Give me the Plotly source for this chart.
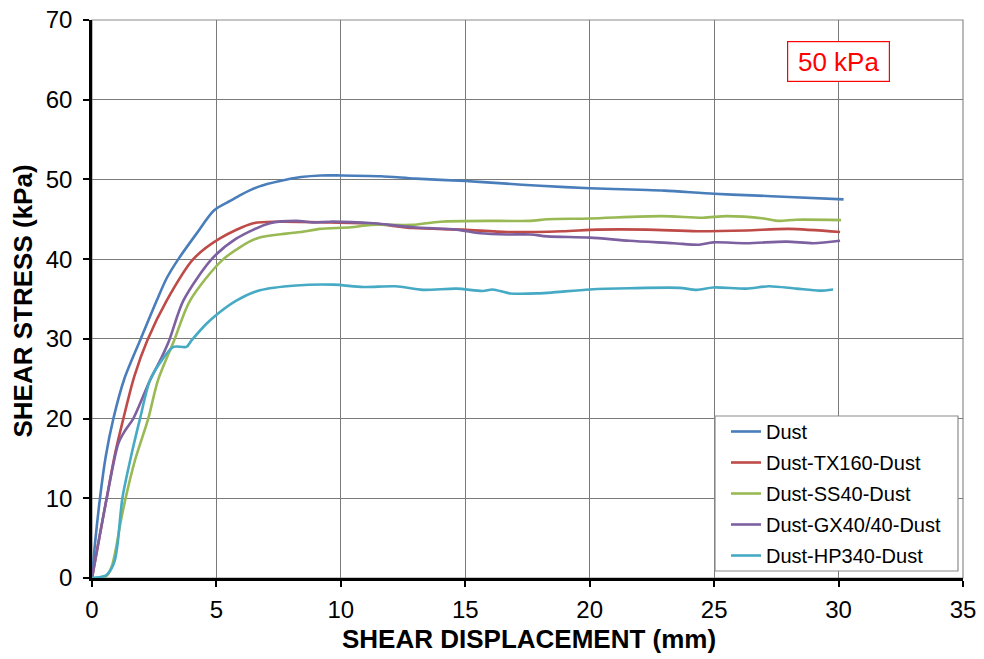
import plotly.graph_objects as go

# ---- data ----
dust_x = [0, 0.12, 0.32, 0.55, 0.86, 1.3, 1.93, 2.6, 3.0, 3.47, 4.2, 4.9, 5.55, 6.0, 6.7, 7.55, 8.4, 9.2, 10.0, 11.6, 13.0, 15.0, 16.5, 18.0, 20.0, 22.0, 23.0, 25.0, 26.5, 28.0, 30.2]
dust_y = [0, 4.3, 10.0, 15.2, 20.0, 25.0, 29.8, 34.8, 37.6, 40.0, 43.2, 46.1, 47.3, 48.1, 49.1, 49.8, 50.3, 50.5, 50.5, 50.4, 50.1, 49.8, 49.5, 49.2, 48.9, 48.7, 48.6, 48.2, 48.0, 47.8, 47.5]

tx_x = [0, 0.25, 0.59, 0.92, 1.26, 1.7, 2.22, 3.0, 4.07, 5.14, 6.48, 7.5, 9.56, 11.3, 12.9, 14.9, 16.7, 18.9, 20.3, 22.3, 24.3, 26.3, 28.0, 30.06]
tx_y = [0, 4.3, 10.0, 15.5, 20.0, 25.3, 29.8, 34.8, 40.0, 42.6, 44.5, 44.7, 44.6, 44.45, 43.9, 43.7, 43.4, 43.5, 43.7, 43.7, 43.5, 43.6, 43.8, 43.4]

ss_x = [0, 0.3, 0.6, 0.8, 0.95, 1.15, 1.35, 1.73, 2.26, 2.65, 3.3, 3.94, 5.28, 6.62, 7.8, 8.4, 9.16, 10.4, 11.2, 12.9, 14.0, 16.3, 17.6, 18.3, 20.0, 22.9, 24.55, 25.5, 27.0, 27.6, 28.3, 30.1]
ss_y = [0, 0.0, 0.3, 1.5, 3.5, 7.0, 10.0, 14.8, 20.0, 24.8, 29.8, 34.8, 40.0, 42.6, 43.2, 43.4, 43.8, 44.0, 44.3, 44.3, 44.7, 44.8, 44.8, 45.0, 45.1, 45.4, 45.2, 45.4, 45.1, 44.8, 44.95, 44.9]

gx_x = [0, 0.25, 0.59, 1.06, 1.33, 1.66, 2.33, 2.8, 3.1, 3.67, 4.81, 5.81, 7.15, 8.2, 8.9, 9.56, 11.3, 12.9, 14.65, 15.6, 16.7, 17.6, 18.3, 20.0, 21.6, 23.36, 24.4, 24.96, 26.3, 27.9, 29.0, 30.06]
gx_y = [0, 4.3, 10.0, 16.9, 18.5, 20.0, 24.8, 27.7, 29.8, 34.8, 40.0, 42.6, 44.5, 44.8, 44.6, 44.7, 44.5, 44.0, 43.7, 43.25, 43.1, 43.1, 42.85, 42.7, 42.3, 42.0, 41.8, 42.1, 42.0, 42.2, 42.0, 42.3]

hp_x = [0, 0.3, 0.55, 0.75, 0.92, 1.03, 1.22, 1.55, 1.93, 2.33, 2.8, 3.27, 3.8, 4.0, 4.6, 5.03, 5.8, 6.75, 8.2, 9.7, 10.9, 12.2, 13.3, 14.65, 15.7, 16.1, 16.8, 17.9, 20.0, 21.6, 23.6, 24.3, 24.96, 26.3, 27.2, 28.3, 29.25, 29.78]
hp_y = [0, 0.1, 0.3, 1.0, 2.25, 4.3, 10.0, 15.0, 20.0, 24.8, 27.3, 29.0, 29.0, 29.8, 31.9, 33.1, 34.8, 36.1, 36.7, 36.8, 36.5, 36.6, 36.15, 36.3, 36.0, 36.2, 35.7, 35.7, 36.2, 36.35, 36.4, 36.15, 36.45, 36.3, 36.6, 36.3, 36.05, 36.2]

series_names = ["Dust", "Dust-TX160-Dust", "Dust-SS40-Dust", "Dust-GX40/40-Dust", "Dust-HP340-Dust"]
series_x = [dust_x, tx_x, ss_x, gx_x, hp_x]
series_y = [dust_y, tx_y, ss_y, gx_y, hp_y]
colors = ["#4A7EBB", "#BE4B48", "#98B954", "#7D60A0", "#46AAC5"]

x_ticks = [0, 5, 10, 15, 20, 25, 30, 35]
y_ticks = [0, 10, 20, 30, 40, 50, 60, 70]

FONT = "Liberation Sans, Arial, sans-serif"
W, H = 984, 659
ML, MR, MT, MB = 92, 21, 20, 81
PW, PH = W - ML - MR, H - MT - MB

def px_x(p):  # pixel column -> paper x
    return (p - ML) / PW

def px_y(p):  # pixel row -> paper y
    return (H - MB - p) / PH

fig = go.Figure()
for i, (name, xs, ys, c) in enumerate(zip(series_names, series_x, series_y, colors)):
    fig.add_trace(go.Scatter(x=xs, y=ys, mode="lines", name=name, legendgroup="g%d" % i,
                             line=dict(color=c, width=2.6, shape="spline", smoothing=0.8)))

axis_common = dict(showgrid=True, gridcolor="#7a7a7a", gridwidth=1, automargin=False,
                   showline=True, linecolor="black", linewidth=2.5,
                   ticks="outside", ticklen=6, tickwidth=2, tickcolor="black",
                   tickfont=dict(size=24, family=FONT, color="black"), zeroline=False)

fig.update_layout(
    template="none",
    width=W, height=H,
    margin=dict(l=ML, r=MR, t=MT, b=MB, autoexpand=False),
    paper_bgcolor="white", plot_bgcolor="white",
    font=dict(family=FONT, color="black"),
    showlegend=True,
    legend=dict(x=px_x(726), y=px_y(412), xanchor="left", yanchor="top",
                bgcolor="rgba(0,0,0,0)", borderwidth=0,
                font=dict(size=20, family=FONT, color="black"),
                itemwidth=30, tracegroupgap=2),
    xaxis=dict(range=[0, 35], tickvals=x_ticks, ticktext=[str(v) for v in x_ticks],
               ticklabelstandoff=2, **axis_common),
    yaxis=dict(range=[0, 70], tickvals=y_ticks, ticktext=[str(v) for v in y_ticks],
               ticklabelstandoff=6, **axis_common),
    shapes=[
        dict(type="rect", xref="paper", yref="paper", x0=0, x1=1, y0=0, y1=1,
             line=dict(color="#8c8c8c", width=1.2), layer="below"),
        dict(type="rect", xref="paper", yref="paper", x0=px_x(715), x1=px_x(958),
             y0=px_y(571), y1=px_y(416), line=dict(color="#8c8c8c", width=1.2),
             fillcolor="white", layer="above"),
    ],
    annotations=[
        dict(x=30, y=64.8, xref="x", yref="y", text="50 kPa", showarrow=False,
             font=dict(size=26, color="red", family=FONT), width=93, height=31,
             bgcolor="white", bordercolor="red", borderwidth=1.2, borderpad=4),
        dict(x=0.502, y=px_y(639), xref="paper", yref="paper", text="<b>SHEAR DISPLACEMENT (mm)</b>",
             showarrow=False, font=dict(size=26, family=FONT, color="black"),
             xanchor="center", yanchor="middle"),
        dict(x=px_x(22.5), y=px_y(301), xref="paper", yref="paper", text="<b>SHEAR STRESS (kPa)</b>",
             showarrow=False, textangle=-90, font=dict(size=26, family=FONT, color="black"),
             xanchor="center", yanchor="middle"),
    ],
)

fig.write_html("out.html", config={"displayModeBar": False},
               post_script="document.body.style.margin='0';document.body.style.padding='0';document.body.style.overflow='hidden';")
